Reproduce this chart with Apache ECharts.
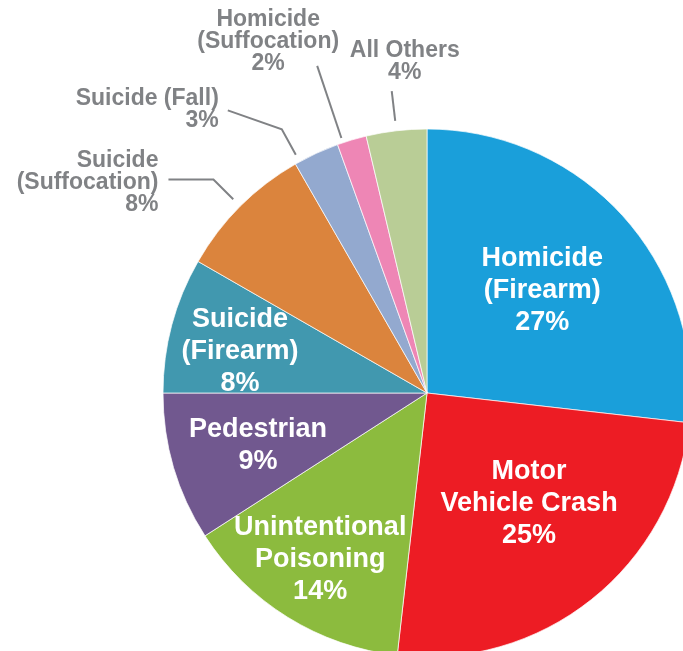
<!DOCTYPE html>
<html><head><meta charset="utf-8">
<script src="https://cdn.jsdelivr.net/npm/echarts@6/dist/echarts.min.js"></script>
<style>html,body{margin:0;padding:0;background:#fff}#c{width:683px;height:651px}</style>
</head><body><div id="c"></div>
<script>
// ---- data ----
const categories = ['Homicide\n(Firearm)', 'Motor\nVehicle Crash', 'Unintentional\nPoisoning', 'Pedestrian',
  'Suicide\n(Firearm)', 'Suicide\n(Suffocation)', 'Suicide (Fall)', 'Homicide\n(Suffocation)', 'All Others'];
const values = [26.8, 25.0, 14.1, 9.1, 8.3, 8.4, 2.8, 1.8, 3.7];

// ---- style ----
const colors = ['#1a9fda', '#ed1c24', '#8cbb3e', '#71588f', '#4198af', '#db843d', '#93a9cf', '#ee86b5', '#b9cd96'];
const placement = ['inside', 'inside', 'inside', 'inside', 'inside', 'outside', 'outside', 'outside', 'outside'];
const CX = 427, CY = 393, R = 264;
const innerLabelPos = {0: [0.585, 0], 1: [0.571, -4.1], 2: [0.748, 0.9], 3: [0.671, -1], 4: [0.725, -2.5]};
const outerLabelPos = {
  5: {shift: 0, gap: 10, len: 38, seg: [-45, 0], align: 'right', off: [-10, 3]},
  6: {shift: -4, gap: 8, len: 37, seg: [-54, -19], align: 'right', off: [-9, -1]},
  7: {shift: -2, gap: 5, len: 81, seg: [0, 0], align: 'center', off: [-49, -24]},
  8: {shift: 0, gap: 10, len: 40, seg: [0, 0], align: 'center', off: [13, -29]}
};
const grayText = '#808285';
const FONT = '"Liberation Sans", Arial, sans-serif';

const total = values.reduce((a, b) => a + b, 0);
const midAngles = [];
let cum = 0;
values.forEach(v => { midAngles.push((cum + v / 2) / total * 360); cum += v; });
function polar(aDeg, r) {
  const a = aDeg * Math.PI / 180;
  return [CX + r * Math.sin(a), CY - r * Math.cos(a)];
}

const data = categories.map((name, i) => {
  const inside = placement[i] === 'inside';
  return {
    name: name,
    value: values[i],
    itemStyle: {color: colors[i]},
    label: inside ? {
      position: 'inside', color: '#fff', fontSize: 27, lineHeight: 32, fontWeight: 'bold'
    } : {
      position: 'outside', color: grayText, fontSize: 23, lineHeight: 22, fontWeight: 'bold'
    },
    labelLine: {show: !inside, lineStyle: {color: grayText, width: 2}}
  };
});

const chart = echarts.init(document.getElementById('c'), null, {renderer: 'canvas'});
chart.setOption({
  animation: false,
  backgroundColor: '#fff',
  series: [{
    type: 'pie',
    center: [CX, CY],
    radius: R,
    startAngle: 90,
    clockwise: true,
    avoidLabelOverlap: false,
    silent: true,
    itemStyle: {borderColor: '#fff', borderWidth: 0.7},
    label: {
      fontFamily: FONT, align: 'center', overflow: 'none',
      formatter: p => p.name + '\n' + Math.round(p.percent) + '%'
    },
    labelLine: {smooth: false},
    labelLayout: function (p) {
      const i = p.dataIndex;
      if (innerLabelPos[i]) {
        const [f, s] = innerLabelPos[i];
        const pt = polar(midAngles[i] + s, f * R);
        return {x: pt[0], y: pt[1], align: 'center', verticalAlign: 'middle'};
      }
      const c = outerLabelPos[i];
      if (c) {
        const a = midAngles[i] + c.shift;
        const p0 = polar(a, R + c.gap);
        const p1 = polar(a, R + c.len);
        const p2 = [p1[0] + c.seg[0], p1[1] + c.seg[1]];
        return {
          x: p2[0] + c.off[0], y: p2[1] + c.off[1],
          align: c.align, verticalAlign: 'middle',
          labelLinePoints: [p0, p1, p2]
        };
      }
    },
    data: data
  }]
});
</script>
</body></html>
